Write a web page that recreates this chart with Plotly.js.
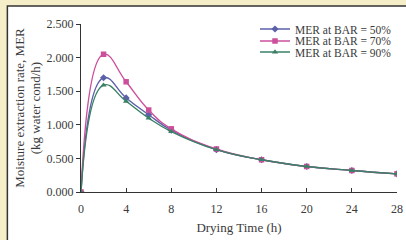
<!DOCTYPE html>
<html><head><meta charset="utf-8">
<script src="https://cdn.plot.ly/plotly-3.0.1.min.js"></script>
<style>html,body{margin:0;padding:0;background:#f6eec8;}#c{width:406px;height:240px;}</style>
</head><body><div id="c"></div>
<script>
var hours = [0, 2, 4, 6, 8, 12, 16, 20, 24, 28];
var mer50 = [0, 1.70, 1.40, 1.15, 0.92, 0.63, 0.48, 0.38, 0.32, 0.27];
var mer70 = [0, 2.05, 1.64, 1.22, 0.94, 0.64, 0.48, 0.38, 0.32, 0.27];
var mer90 = [0, 1.59, 1.35, 1.10, 0.90, 0.63, 0.48, 0.38, 0.32, 0.27];
var names = ['MER at BAR = 50%', 'MER at BAR = 70%', 'MER at BAR = 90%'];
var xTicks = [0, 4, 8, 12, 16, 20, 24, 28];
var yTicks = [0, 0.5, 1.0, 1.5, 2.0, 2.5];

function tr(y, name, color, sym, leg) {
  return {x: hours, y: y, name: name, type: 'scatter', mode: 'lines+markers', legend: leg,
    line: {shape: 'spline', smoothing: 1.3, color: color, width: 1.4},
    marker: {symbol: sym, size: 5.5, color: color}};
}
var data = [
  tr(mer50, names[0], '#5b60a8', 'diamond', 'legend'),
  tr(mer70, names[1], '#cc4f9c', 'square', 'legend2'),
  tr(mer90, names[2], '#3a8066', 'triangle-up', 'legend3')
];
var font = {family: 'Liberation Serif, Times New Roman, serif', color: '#3a3a3a', size: 12};
function leg(y) {
  return {x: 1.0, y: y, xanchor: 'right', yanchor: 'middle', bgcolor: 'rgba(0,0,0,0)',
    font: {size: 11.5}, itemwidth: 30};
}
var layout = {
  width: 406, height: 240,
  margin: {l: 81, r: 9, t: 24, b: 48},
  paper_bgcolor: '#f6eec8', plot_bgcolor: 'rgba(0,0,0,0)',
  font: font, showlegend: true,
  shapes: [{type: 'rect', xref: 'paper', yref: 'paper', x0: -0.233, x1: 1.2, y0: -0.5, y1: 1.107,
    fillcolor: '#ffffff', line: {color: '#333', width: 1.5}, layer: 'below'}],
  xaxis: {range: [0, 28], tickvals: xTicks, ticks: 'inside', ticklen: 4, tickcolor: '#333',
    ticklabelstandoff: 5,
    showline: true, linecolor: '#333', linewidth: 1.2, showgrid: false, zeroline: false,
    title: {text: 'Drying Time (h)', font: {size: 13}, standoff: 8}},
  yaxis: {range: [0, 2.5], tickvals: yTicks, tickformat: '.3f', ticks: 'outside', ticklen: 4, tickcolor: '#333',
    showline: true, linecolor: '#333', linewidth: 1.2, showgrid: false, zeroline: false,
    title: {text: 'Moisture extraction rate, MER<br>(kg water cond/h)', font: {size: 13}, standoff: 2}},
  legend: leg(0.970),
  legend2: leg(0.899),
  legend3: leg(0.833)
};
Plotly.newPlot('c', data, layout, {displayModeBar: false, staticPlot: true});
</script></body></html>
